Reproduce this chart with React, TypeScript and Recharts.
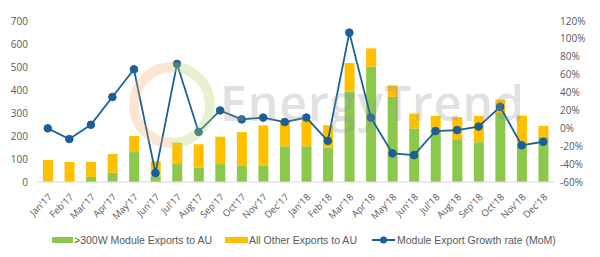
import React from "react"
import {
  Bar,
  ComposedChart,
  Legend,
  Line,
  XAxis,
  YAxis,
} from "recharts"

const months = [
  "Jan'17", "Feb'17", "Mar'17", "Apr'17", "May'17", "Jun'17",
  "Jul'17", "Aug'17", "Sep'17", "Oct'17", "Nov'17", "Dec'17",
  "Jan'18", "Feb'18", "Mar'18", "Apr'18", "May'18", "Jun'18",
  "Jul'18", "Aug'18", "Sep'18", "Oct'18", "Nov'18", "Dec'18",
]

// >300W module exports (MW)
const over300W = [2, 3, 22, 40, 130, 25, 78, 62, 78, 70, 70, 155, 155, 150, 393, 501, 370, 233, 222, 186, 173, 300, 160, 196]

// all other exports (MW)
const otherExports = [94, 84, 66, 82, 70, 65, 93, 102, 119, 147, 176, 107, 113, 97, 124, 80, 50, 64, 65, 96, 114, 58, 129, 48]

// month-over-month growth (%)
const growthRate = [0, -12, 4, 35, 66, -50, 72, -4, 20, 10, 12, 7, 12, -14, 107, 12, -28, -30, -3, -2, 2, 24, -19, -15]

const leftTicks = [0, 100, 200, 300, 400, 500, 600, 700]
const rightTicks = [-60, -40, -20, 0, 20, 40, 60, 80, 100, 120]

const GREEN = "#8cc84b"
const YELLOW = "#ffc000"
const BLUE = "#1c5f96"
const TEXT = "#595959"
const FONT = "'Open Sans', 'Noto Sans', sans-serif"
const LEGEND_FONT = "'Liberation Sans', Arial, sans-serif"

const data = months.map((month, i) => ({
  month,
  over300W: over300W[i],
  other: otherExports[i],
  growth: growthRate[i],
}))

function ChartLegend() {
  const item = { display: "flex", alignItems: "center" } as const
  return (
    <div
      style={{
        display: "flex",
        alignItems: "center",
        height: 35,
        paddingLeft: 52,
        paddingTop: 1,
        boxSizing: "border-box",
        fontFamily: LEGEND_FONT,
        fontSize: 10.5,
        color: TEXT,
        whiteSpace: "nowrap",
      }}
    >
      <div style={{ ...item, width: 173 }}>
        <span style={{ display: "inline-block", width: 21, height: 6, background: GREEN, marginRight: 1 }} />
        <span>&gt;300W Module Exports to AU</span>
      </div>
      <div style={{ ...item, width: 147 }}>
        <span style={{ display: "inline-block", width: 23, height: 6, background: YELLOW, marginRight: 1 }} />
        <span>All Other Exports to AU</span>
      </div>
      <div style={item}>
        <svg width={23} height={10} style={{ marginRight: 2 }}>
          <line x1={0} y1={5} x2={23} y2={5} stroke={BLUE} strokeWidth={2} />
          <circle cx={11.5} cy={5} r={3.5} fill={BLUE} />
        </svg>
        <span>Module Export Growth rate (MoM)</span>
      </div>
    </div>
  )
}

function Watermark() {
  return (
    <div style={{ position: "absolute", left: 0, top: 0, width: 600, height: 257, pointerEvents: "none" }}>
      <svg width={600} height={257} style={{ position: "absolute", left: 0, top: 0 }}>
        <path d="M 172 67 A 38 38 0 0 0 172 143" fill="none" stroke="#f4a460" strokeWidth={10} opacity={0.28} />
        <path d="M 172 143 A 38 38 0 0 0 172 67" fill="none" stroke="#b5d46a" strokeWidth={10} opacity={0.32} />
      </svg>
      <div
        style={{
          position: "absolute",
          left: 220,
          top: 70,
          fontFamily: FONT,
          fontSize: 48,
          fontWeight: 600,
          color: "rgba(150,150,150,0.3)",
          letterSpacing: 1,
          whiteSpace: "nowrap",
        }}
      >
        EnergyTrend
      </div>
    </div>
  )
}

export default function App() {
  return (
    <div style={{ position: "fixed", left: 0, top: 0, width: 600, height: 257, background: "#fff" }}>
      <ComposedChart
        width={600}
        height={257}
        data={data}
        margin={{ top: 21, right: 0, bottom: 0, left: 0 }}
        barCategoryGap={0}
      >
        <XAxis
          dataKey="month"
          interval={0}
          height={40}
          axisLine={{ stroke: "#d9d9d9" }}
          tickLine={false}
          tickMargin={5}
          angle={-45}
          textAnchor="end"
          tick={{ fill: TEXT, fontSize: 9.5, fontFamily: FONT }}
        />
        <YAxis
          yAxisId="left"
          width={37}
          domain={[0, 700]}
          ticks={leftTicks}
          axisLine={false}
          tickLine={false}
          tickMargin={3}
          tick={{ fill: TEXT, fontSize: 10, fontFamily: FONT }}
        />
        <YAxis
          yAxisId="right"
          orientation="right"
          width={46}
          domain={[-60, 120]}
          ticks={rightTicks}
          axisLine={false}
          tickLine={false}
          tickMargin={0}
          tickFormatter={(v) => `${v}%`}
          tick={{ fill: TEXT, fontSize: 10, fontFamily: FONT }}
        />
        <Legend verticalAlign="bottom" height={35} content={() => <ChartLegend />} />
        <Bar yAxisId="left" dataKey="over300W" stackId="a" fill={GREEN} barSize={10} isAnimationActive={false} />
        <Bar yAxisId="left" dataKey="other" stackId="a" fill={YELLOW} barSize={10} isAnimationActive={false} />
        <Line
          yAxisId="right"
          dataKey="growth"
          stroke={BLUE}
          strokeWidth={1.8}
          dot={{ r: 3.8, fill: BLUE, stroke: BLUE, strokeWidth: 1 }}
          isAnimationActive={false}
        />
      </ComposedChart>
      <Watermark />
    </div>
  )
}
